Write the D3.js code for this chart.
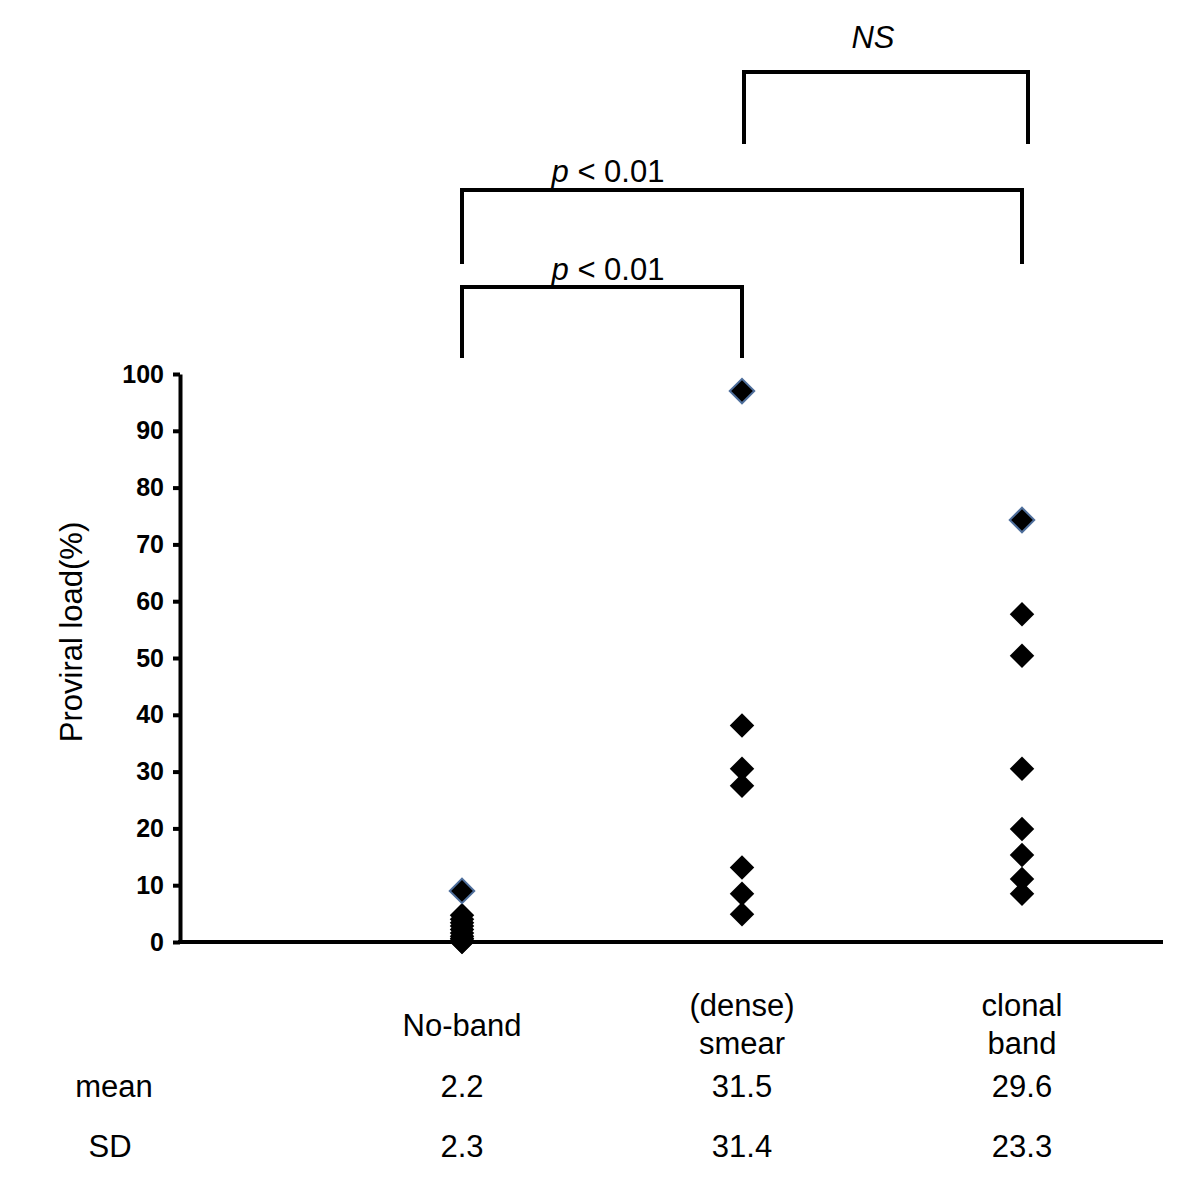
<!DOCTYPE html>
<html><head><meta charset="utf-8">
<script src="https://cdn.jsdelivr.net/npm/d3@7"></script>
<style>body{margin:0;background:#fff}svg{display:block}text{font-family:"Liberation Sans",Arial,sans-serif;fill:#000}</style>
</head><body>
<script>
const categories = ["No-band", "(dense)\nsmear", "clonal\nband"];
const noBandValues = [9.0, 4.7, 4.0, 3.4, 2.8, 2.2, 1.6, 1.0, 0.6, 0.3, 0.2, 0.1, 0.1, 0.0];
const smearValues = [97.0, 38.1, 30.5, 27.5, 13.1, 8.5, 4.9];
const clonalValues = [74.3, 57.7, 50.4, 30.5, 19.9, 15.3, 11.1, 8.5];
const highlightValues = [9.0, 97.0, 74.3];
const meanLabels = ["2.2", "31.5", "29.6"];
const sdLabels = ["2.3", "31.4", "23.3"];
const yTicks = [0, 10, 20, 30, 40, 50, 60, 70, 80, 90, 100];
const comparisons = [
  {a: 1, b: 2, label: "NS"},
  {a: 0, b: 2, label: "p < 0.01"},
  {a: 0, b: 1, label: "p < 0.01"}
];

const W = 1200, H = 1195;
const FS = 31;
const svg = d3.select("body").append("svg").attr("width", W).attr("height", H);

const x = d3.scalePoint().domain(d3.range(categories.length)).range([462, 1022]);
const y = d3.scaleLinear().domain([0, 100]).range([942, 374]);

// Y axis
const yAxis = d3.axisLeft(y).tickValues(yTicks).tickSize(7).tickPadding(9).tickSizeOuter(0);
const gy = svg.append("g").attr("transform", "translate(180,0)").call(yAxis);
gy.select(".domain").attr("stroke", "#000").attr("stroke-width", 4);
gy.selectAll(".tick line").attr("stroke", "#000").attr("stroke-width", 4);
gy.selectAll(".tick text").attr("font-size", 25).attr("font-weight", "bold")
  .style("font-family", "'Liberation Sans',Arial,sans-serif").attr("fill", "#000");

// X axis line
svg.append("line").attr("x1", 178).attr("x2", 1163).attr("y1", y(0)).attr("y2", y(0))
  .attr("stroke", "#000").attr("stroke-width", 4);

// Points
const groups = [noBandValues, smearValues, clonalValues];
const pts = [];
groups.forEach((vals, i) => vals.forEach(v => pts.push({i, v})));
pts.sort((p, q) => (highlightValues[p.i] === p.v) - (highlightValues[q.i] === q.v));
const sym = d3.symbol().type(d3.symbolSquare).size(300);
svg.append("g").selectAll("path").data(pts).join("path")
  .attr("d", sym)
  .attr("transform", d => `translate(${x(d.i)},${y(d.v)}) rotate(45)`)
  .attr("fill", "#000")
  .attr("stroke", d => highlightValues[d.i] === d.v ? "#4f6f9c" : "none")
  .attr("stroke-width", 2);

// Y label
svg.append("text").attr("transform", "translate(82,632) rotate(-90)")
  .attr("text-anchor", "middle").attr("font-size", FS).text("Proviral load(%)");

// Category labels
categories.forEach((c, i) => {
  const lines = c.split("\n");
  const t = svg.append("text").attr("text-anchor", "middle").attr("font-size", FS);
  if (lines.length === 1) {
    t.attr("x", x(i)).attr("y", 1036).text(lines[0]);
  } else {
    lines.forEach((l, k) => t.append("tspan").attr("x", x(i)).attr("y", 1016 + k * 38).text(l));
  }
});

// mean / SD rows
svg.append("text").attr("x", 114).attr("y", 1097).attr("text-anchor", "middle").attr("font-size", FS).text("mean");
svg.append("text").attr("x", 110).attr("y", 1157).attr("text-anchor", "middle").attr("font-size", FS).text("SD");
meanLabels.forEach((m, i) => svg.append("text").attr("x", x(i)).attr("y", 1097).attr("text-anchor", "middle").attr("font-size", FS).text(m));
sdLabels.forEach((m, i) => svg.append("text").attr("x", x(i)).attr("y", 1157).attr("text-anchor", "middle").attr("font-size", FS).text(m));

// Brackets
const bracketTop = [72, 190, 287];
const bracketBottom = [144, 264, 358];
const bracketRightShift = [6, 0, 0];
const labelY = [48, 182, 280];
const labelX = [873, 608, 608];
comparisons.forEach((c, k) => {
  const x1 = x(c.a) + (c.a === 1 ? 2 : 0), x2 = x(c.b) + bracketRightShift[k];
  svg.append("path")
    .attr("d", `M${x1},${bracketBottom[k]}V${bracketTop[k]}H${x2}V${bracketBottom[k]}`)
    .attr("fill", "none").attr("stroke", "#000").attr("stroke-width", 4);
  const t = svg.append("text").attr("x", labelX[k]).attr("y", labelY[k]).attr("text-anchor", "middle").attr("font-size", FS);
  if (c.label === "NS") {
    t.attr("font-style", "italic").text("NS");
  } else {
    t.append("tspan").attr("font-style", "italic").text("p");
    t.append("tspan").text(" < 0.01");
  }
});
</script>
</body></html>
